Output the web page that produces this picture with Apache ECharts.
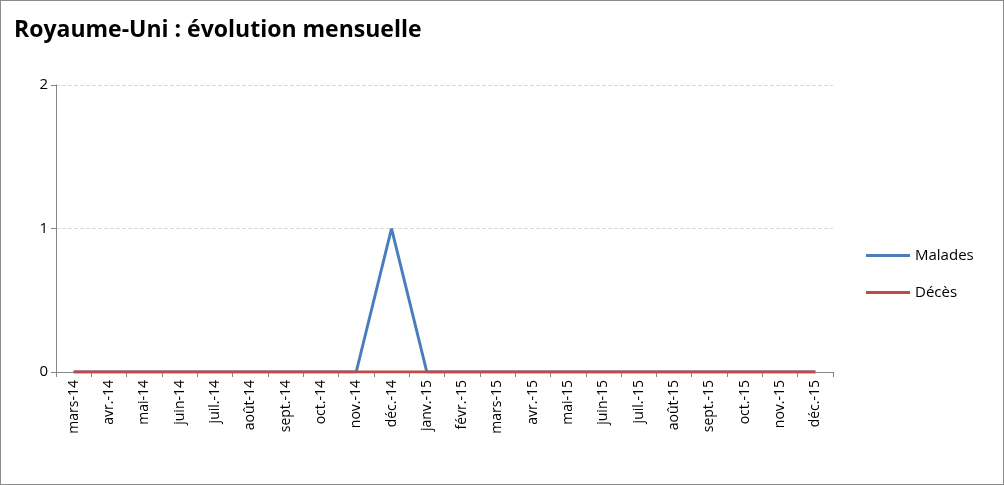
<!DOCTYPE html>
<html><head><meta charset="utf-8">
<script src="https://cdn.jsdelivr.net/npm/echarts@6/dist/echarts.min.js"></script>
<style>html,body{margin:0;padding:0;background:#fff}#c{width:1002px;height:483px;border:1px solid #8c8c8c}</style>
</head><body><div id="c"></div>
<script>
const categories=['mars-14','avr.-14','mai-14','juin-14','juil.-14','août-14','sept.-14','oct.-14','nov.-14','déc.-14','janv.-15','févr.-15','mars-15','avr.-15','mai-15','juin-15','juil.-15','août-15','sept.-15','oct.-15','nov.-15','déc.-15'];
const malades=[0,0,0,0,0,0,0,0,0,1,0,0,0,0,0,0,0,0,0,0,0,0];
const deces=[0,0,0,0,0,0,0,0,0,0,0,0,0,0,0,0,0,0,0,0,0,0];
const chart=echarts.init(document.getElementById('c'));
const font='"Open Sans", "Liberation Sans", sans-serif';
chart.setOption({
 animation:false,
 title:{text:'Royaume-Uni : évolution mensuelle',left:8,top:13,textStyle:{fontFamily:font,fontWeight:'bold',fontSize:23,color:'#000'}},
 legend:{orient:'vertical',left:860,top:242,itemGap:22,itemWidth:44,icon:'rect',itemHeight:3,textStyle:{fontFamily:font,fontSize:15,color:'#000'},data:['Malades','Décès']},
 grid:{left:55,right:170,top:84,bottom:112},
 xAxis:{type:'category',data:categories,boundaryGap:true,
  axisLine:{lineStyle:{color:'#868686'}},axisTick:{show:true,interval:0,length:5,lineStyle:{color:'#868686'}},
  axisLabel:{rotate:90,interval:0,fontFamily:font,fontSize:14,color:'#000'}},
 yAxis:{type:'value',min:0,max:2,interval:1,
  axisLine:{show:true,lineStyle:{color:'#868686'}},axisTick:{show:true,length:5,lineStyle:{color:'#868686'}},
  splitLine:{lineStyle:{color:'#d9d9d9',type:'dashed'}},
  axisLabel:{fontFamily:font,fontSize:15,color:'#000'}},
 series:[
  {name:'Malades',type:'line',data:malades,symbol:'none',lineStyle:{color:'#4a7ebb',width:3},itemStyle:{color:'#4a7ebb'}},
  {name:'Décès',type:'line',data:deces,symbol:'none',lineStyle:{color:'#be4b48',width:3},itemStyle:{color:'#be4b48'}}
 ]
});
</script></body></html>
